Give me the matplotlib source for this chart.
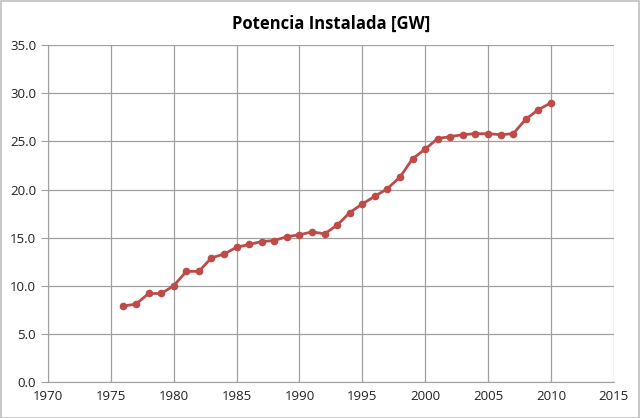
import numpy as np
import matplotlib.pyplot as plt
from matplotlib.patches import Rectangle

# datos
anios = list(range(1976, 2011))
potencia = [7.9, 8.1, 9.2, 9.2, 10.0, 11.5, 11.5, 12.9, 13.3, 14.0,
            14.3, 14.6, 14.7, 15.1, 15.3, 15.6, 15.4, 16.3, 17.6, 18.5,
            19.3, 20.1, 21.3, 23.2, 24.2, 25.3, 25.5, 25.7, 25.8, 25.8,
            25.7, 25.8, 27.3, 28.3, 29.0]
xticks = list(range(1970, 2016, 5))
yticks = np.arange(0, 35.1, 5)

plt.rcParams['font.family'] = ['Open Sans', 'DejaVu Sans']

fig = plt.figure(figsize=(6.4, 4.18), dpi=100)
ax = fig.add_axes([0.075, 0.086, 0.884, 0.806])

ax.plot(anios, potencia, color="#BE4B48", lw=2, marker="o", ms=4.5,
        markerfacecolor="#BE4B48", markeredgecolor="#BE4B48")

ax.set_xlim(1970, 2015)
ax.set_ylim(0, 35)
ax.set_xticks(xticks)
ax.set_yticks(yticks)
ax.set_yticklabels(["%.1f" % v for v in yticks])
ax.grid(True, color="#A0A0A0", lw=0.9)
ax.set_axisbelow(True)
for s in ["top", "right"]:
    ax.spines[s].set_visible(False)
for s in ["left", "bottom"]:
    ax.spines[s].set_color("#A0A0A0")
ax.tick_params(axis="both", labelsize=9.5, colors="#222222", length=5, color="#A0A0A0")
ax.tick_params(axis="x", length=0, pad=6)
ax.set_title("Potencia Instalada [GW]", fontsize=12, fontweight="bold", pad=12)

fig.patches.append(Rectangle((0.001, 0.001), 0.997, 0.997, transform=fig.transFigure,
                             fill=False, edgecolor="#BFBFBF", lw=1.2))
fig.savefig("out.png", dpi=100)
